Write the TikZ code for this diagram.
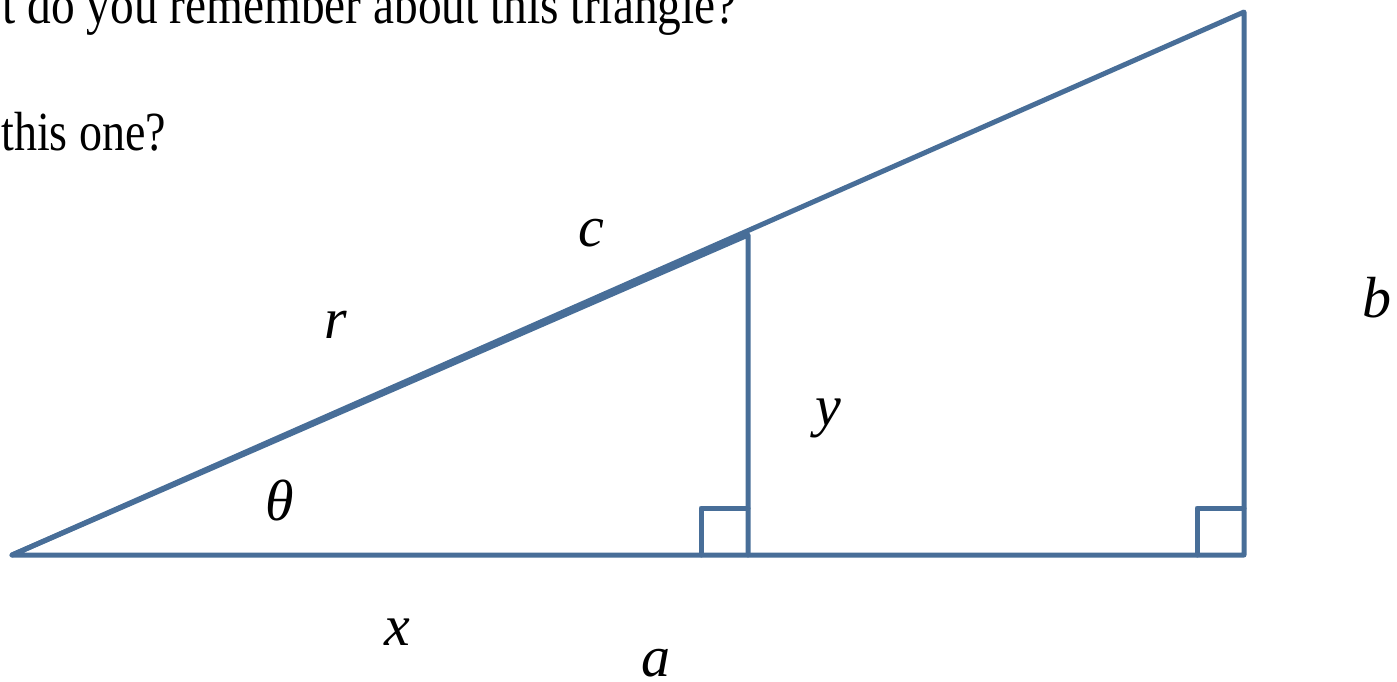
\documentclass[tikz,border=0pt]{standalone}
\usepackage{fontspec}
\usepackage{graphicx}
\setmainfont{Liberation Serif}
\definecolor{edge}{RGB}{72,110,152}
\begin{document}
\begin{tikzpicture}[x=0.5pt,y=-0.5pt,
  side/.style={draw=edge,line width=2.5pt,line join=round,line cap=round},
  lbl/.style={anchor=base,inner sep=0pt,font=\fontsize{29pt}{34pt}\selectfont\itshape},
  txt/.style={inner sep=0pt,font=\fontsize{23pt}{28pt}\selectfont}]
\useasboundingbox (0,0) rectangle (1397,681);
\coordinate (A) at (12,555);
\coordinate (B) at (748,235);
\coordinate (C) at (748,555);
\coordinate (D) at (1244,12);
\coordinate (E) at (1244,555);
\draw[side] (A) -- (D) -- (E) -- cycle;
\draw[side] (A) -- (B) -- (C);
\draw[side] (701,555) -- (701,508) -- (748,508);
\draw[side] (1197,555) -- (1197,508) -- (1244,508);
\node[txt,anchor=base east] (t1) at (737,23) {\scalebox{1.03}[1.2]{t do you remember about this triangle?}};
\node[txt,anchor=base west] (t2) at (1,150) {\scalebox{1.0}[1.2]{this one?}};
\node[lbl] (lc) at (591,246) {c};
\node[lbl] (lr) at (336,338) {r};
\node[lbl] (ly) at (828,425) {y};
\node[lbl] (lt) at (280,520) {θ};
\node[lbl] (lx) at (397,645) {x};
\node[lbl] (la) at (656,676) {a};
\node[lbl] (lb) at (1377,317) {b};
\end{tikzpicture}
\end{document}
